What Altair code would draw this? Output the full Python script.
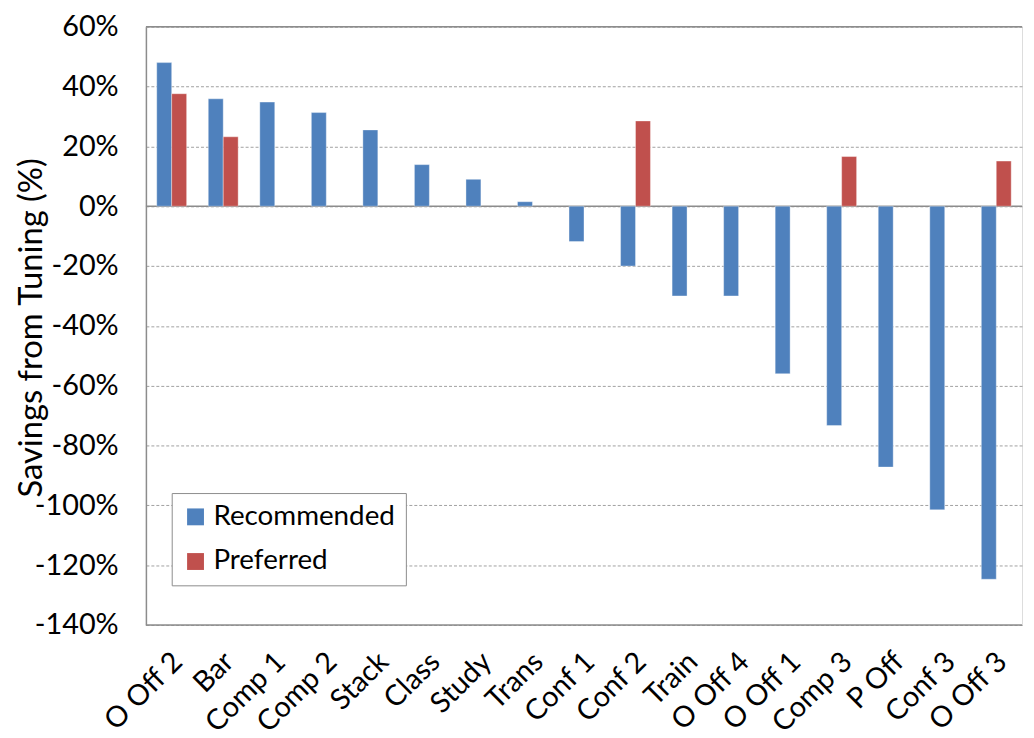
import altair as alt
import pandas as pd

categories = ["O Off 2", "Bar", "Comp 1", "Comp 2", "Stack", "Class", "Study", "Trans",
              "Conf 1", "Conf 2", "Train", "O Off 4", "O Off 1", "Comp 3", "P Off", "Conf 3", "O Off 3"]
recommended = [48.0, 35.9, 34.8, 31.3, 25.5, 13.9, 9.0, 1.5,
               -11.8, -20.0, -30.0, -30.0, -56.0, -73.3, -87.2, -101.5, -124.7]
preferred = [37.6, 23.2, None, None, None, None, None, None,
             None, 28.5, None, None, None, 16.6, None, None, 15.1]
series_names = ["Recommended", "Preferred"]
series_colors = ["#4F81BD", "#C0504D"]
y_ticks = [60, 40, 20, 0, -20, -40, -60, -80, -100, -120, -140]
frame_lines = [60, 0, -140]

rows = []
for c, r, p in zip(categories, recommended, preferred):
    rows.append({"cat": c, "series": "Recommended", "value": r})
    if p is not None:
        rows.append({"cat": c, "series": "Preferred", "value": p})
df = pd.DataFrame(rows)
frame_df = pd.DataFrame({"y": frame_lines})

FONT = "Lato"

bars = alt.Chart(df).mark_bar(stroke="#ffffff", strokeOpacity=0.45, strokeWidth=0.8).encode(
    x=alt.X("cat:N", sort=categories,
            scale=alt.Scale(paddingInner=0.42, paddingOuter=0.21),
            axis=alt.Axis(title=None, labelAngle=315, labelAlign="right", labelBaseline="middle",
                          labelFontSize=29, labelFont=FONT, labelColor="#000000",
                          ticks=False, domain=False, labelPadding=32, labelOffset=6,
                          labelOverlap=False)),
    xOffset=alt.XOffset("series:N", sort=series_names, scale=alt.Scale(domain=series_names, paddingInner=0)),
    y=alt.Y("value:Q",
            scale=alt.Scale(domain=[-140, 60], nice=False, zero=False),
            axis=alt.Axis(values=y_ticks, labelExpr="datum.value + '%'", title="Savings from Tuning (%)",
                          labelFontSize=29, labelFont=FONT, labelColor="#000000", labelPadding=28,
                          ticks=False, domain=True, domainColor="#8c8c8c", domainWidth=1.5,
                          grid=True, gridColor="#a0a0a0", gridDash=[3, 2], gridWidth=1,
                          titleFont=FONT, titleFontSize=33, titleFontWeight="normal", titleColor="#000000",
                          titleX=-115, titleY=303, titleBaseline="middle")),
    color=alt.Color("series:N", sort=series_names,
                    scale=alt.Scale(domain=series_names, range=series_colors),
                    legend=alt.Legend(title=None, orient="none", legendX=26, legendY=470,
                                      direction="vertical", symbolType="square", symbolSize=289,
                                      symbolStrokeWidth=0, labelFontSize=28, labelFont=FONT,
                                      labelColor="#000000", labelOffset=4, rowPadding=17,
                                      padding=10, strokeColor="#8c8c8c", fillColor="#ffffff",
                                      cornerRadius=0, labelLimit=400)),
)

frame = alt.Chart(frame_df).mark_rule(color="#8c8c8c", strokeWidth=1.5).encode(
    y=alt.Y("y:Q")
)

chart = alt.layer(frame, bars).properties(
    width=883, height=603,
    autosize=alt.AutoSizeParams(type="none"),
    padding={"left": 139, "top": 16, "right": 4, "bottom": 110},
).configure_view(stroke=None).configure(background="#ffffff")

chart.save("out.html", embed_options={"renderer": "svg", "actions": False})
